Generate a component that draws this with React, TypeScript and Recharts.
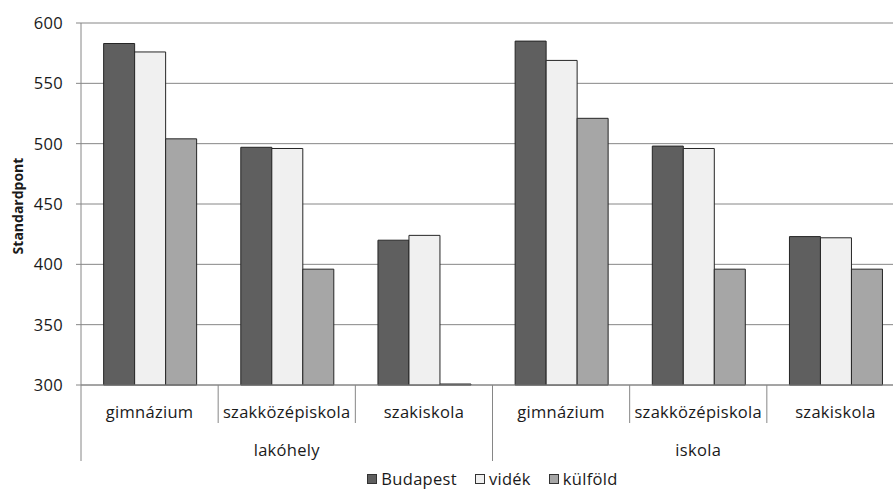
import { BarChart, Bar, XAxis, YAxis, CartesianGrid, Legend } from 'recharts';

const categories = ['gimnázium', 'szakközépiskola', 'szakiskola', 'gimnázium', 'szakközépiskola', 'szakiskola'];
const groups = ['lakóhely', 'iskola'];
const budapest = [583, 497, 420, 585, 498, 423];
const videk = [576, 496, 424, 569, 496, 422];
const kulfold = [504, 396, 300, 521, 396, 396];
const yTicks = [300, 350, 400, 450, 500, 550, 600];

const series = [
  { key: 'budapest', name: 'Budapest', fill: '#5f5f5f' },
  { key: 'videk', name: 'vidék', fill: '#f0f0f0' },
  { key: 'kulfold', name: 'külföld', fill: '#a6a6a6' },
];

const data = categories.map((cat, i) => ({
  cat,
  budapest: budapest[i],
  videk: videk[i],
  kulfold: kulfold[i],
}));

const W = 910;
const H = 490;
const LEFT = 81;
const RIGHT = 904;
const TOP = 23;
const AXIS_Y = 385;
const LEGEND_H = 22;
const FONT = '"Open Sans", sans-serif';
const FS = 16.5;
const LS = 0.3;
const TEXT = '#1a1a1a';
const GRID = '#868686';

function CategoryTick(props: any) {
  const { x, payload, index } = props;
  const band = (RIGHT - LEFT) / categories.length;
  const left = x - band / 2;
  const groupStart = index % 3 === 0;
  return (
    <g>
      <line x1={left} x2={left} y1={AXIS_Y} y2={groupStart ? AXIS_Y + 76 : AXIS_Y + 38} stroke={GRID} />
      <text x={x} y={AXIS_Y + 26} textAnchor="middle" dominantBaseline="central" fill={TEXT} fontSize={FS} letterSpacing={LS} fontFamily={FONT}>
        {payload.value}
      </text>
      {index % 3 === 1 && (
        <text x={x} y={AXIS_Y + 64} textAnchor="middle" dominantBaseline="central" fill={TEXT} fontSize={FS} letterSpacing={LS} fontFamily={FONT}>
          {groups[Math.floor(index / 3)]}
        </text>
      )}
    </g>
  );
}

function LegendContent() {
  return (
    <div
      style={{
        display: 'flex',
        justifyContent: 'center',
        gap: 18,
        fontFamily: FONT,
        fontSize: FS,
        letterSpacing: LS,
        color: TEXT,
        lineHeight: LEGEND_H + 'px',
        height: LEGEND_H,
      }}
    >
      {series.map((s) => (
        <span key={s.key} style={{ display: 'inline-flex', alignItems: 'center' }}>
          <span
            style={{
              display: 'inline-block',
              width: 8,
              height: 8,
              background: s.fill,
              border: '1px solid #333',
              marginRight: 4,
            }}
          />
          {s.name}
        </span>
      ))}
    </div>
  );
}

export default function App() {
  return (
    <div style={{ position: 'absolute', left: 0, top: 0, width: 893, height: H, overflow: 'hidden', background: '#fff' }}>
      <BarChart
        width={W}
        height={H}
        data={data}
        margin={{ top: TOP, right: W - RIGHT, left: 0, bottom: 0 }}
        barCategoryGap="16.5%"
        barGap={0}
      >
        <CartesianGrid vertical={false} stroke={GRID} />
        <XAxis
          dataKey="cat"
          height={H - AXIS_Y - LEGEND_H}
          axisLine={{ stroke: GRID }}
          tickLine={false}
          interval={0}
          tick={<CategoryTick />}
        />
        <YAxis
          width={LEFT}
          domain={[300, 600]}
          ticks={yTicks}
          axisLine={{ stroke: GRID }}
          tickLine={{ stroke: GRID }}
          tickSize={5}
          tickMargin={13}
          tick={{ fill: TEXT, fontSize: FS, fontFamily: FONT, letterSpacing: LS }}
          label={{
            content: (p: any) => {
              const vb = p.viewBox;
              const cy = vb.y + vb.height / 2 + 2;
              return (
                <text
                  x={17}
                  y={cy}
                  transform={`rotate(-90 17 ${cy})`}
                  textAnchor="middle"
                  dominantBaseline="central"
                  fontWeight="bold"
                  fontSize={14}
                  fontFamily={FONT}
                  fill={TEXT}
                >
                  Standardpont
                </text>
              );
            },
          }}
        />
        <Legend
          verticalAlign="bottom"
          content={<LegendContent />}
          wrapperStyle={{ left: LEFT, width: RIGHT - LEFT, height: LEGEND_H }}
        />
        {series.map((s) => (
          <Bar
            key={s.key}
            dataKey={s.key}
            name={s.name}
            fill={s.fill}
            stroke="#262626"
            strokeWidth={1}
            minPointSize={1}
            isAnimationActive={false}
          />
        ))}
      </BarChart>
    </div>
  );
}
